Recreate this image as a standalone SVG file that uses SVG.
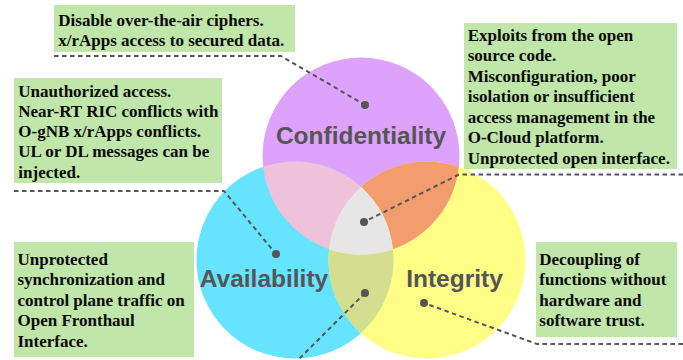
<svg xmlns="http://www.w3.org/2000/svg" width="683" height="360" viewBox="0 0 683 360">
<defs>
<style>
.box{fill:#C0E6A9}
.bt{font-family:"Liberation Serif","Times New Roman",serif;font-weight:bold;font-size:17px;fill:#0a0a0a}
.lbl{font-family:"Liberation Sans",Arial,sans-serif;font-weight:bold;font-size:24.5px;fill:#555;text-anchor:middle}
.dash{fill:none;stroke:#555;stroke-width:2;stroke-dasharray:4.5 3.5}
.dot{fill:#555}
</style>
</defs>
<rect width="683" height="360" fill="#fff"/>
<g id="venn">
<circle id="conf" cx="361" cy="156" r="98.5" fill="#DCA2FC"/>
<circle id="avail" cx="295" cy="260" r="98.5" fill="#66E3FE"/>
<circle id="integ" cx="427" cy="260" r="98.5" fill="#FEFE86"/>
<path id="ov-pc" d="M263.1,166.8 A98.5,98.5 0 0 1 361,186.9 A98.5,98.5 0 0 0 329.1,249.2 A98.5,98.5 0 0 1 263.1,166.8 Z" fill="#EFC2DC"/>
<path id="ov-py" d="M458.9,166.8 A98.5,98.5 0 0 0 361,186.9 A98.5,98.5 0 0 1 392.9,249.2 A98.5,98.5 0 0 0 458.9,166.8 Z" fill="#F39C6D"/>
<path id="ov-cy" d="M329.1,249.2 A98.5,98.5 0 0 0 392.9,249.2 A98.5,98.5 0 0 1 361,333.1 A98.5,98.5 0 0 1 329.1,249.2 Z" fill="#D3DF8E"/>
<path id="ov-all" d="M361,186.9 A98.5,98.5 0 0 1 392.9,249.2 A98.5,98.5 0 0 1 329.1,249.2 A98.5,98.5 0 0 1 361,186.9 Z" fill="#E6E6E6"/>
<text class="lbl" x="361" y="144">Confidentiality</text>
<text class="lbl" x="264" y="287">Availability</text>
<text class="lbl" x="454.5" y="287">Integrity</text>
</g>
<g id="box1">
<rect class="box" x="54" y="5" width="241" height="47"/>
<text class="bt"><tspan x="58.3" y="25.5">Disable over-the-air ciphers.</tspan><tspan x="58.3" y="46">x/rApps access to secured data.</tspan></text>
</g>
<g id="box2">
<rect class="box" x="14" y="78" width="208" height="105"/>
<text class="bt"><tspan x="18.3" y="96.5">Unauthorized access.</tspan><tspan x="18.3" y="116.8">Near-RT RIC conflicts with</tspan><tspan x="18.3" y="137.1">O-gNB x/rApps conflicts.</tspan><tspan x="18.3" y="157.4">UL or DL messages can be</tspan><tspan x="18.3" y="177.7">injected.</tspan></text>
</g>
<g id="box3">
<rect class="box" x="14" y="242" width="180" height="115"/>
<text class="bt"><tspan x="17.5" y="265">Unprotected</tspan><tspan x="17.5" y="285.4">synchronization and</tspan><tspan x="17.5" y="305.8">control plane traffic on</tspan><tspan x="17.5" y="326.2">Open Fronthaul</tspan><tspan x="17.5" y="346.6">Interface.</tspan></text>
</g>
<g id="box4">
<rect class="box" x="464" y="23" width="213" height="146"/>
<text class="bt"><tspan x="467.7" y="40.7">Exploits from the open</tspan><tspan x="467.7" y="61.2">source code.</tspan><tspan x="467.7" y="81.8">Misconfiguration, poor</tspan><tspan x="467.7" y="102.3">isolation or insufficient</tspan><tspan x="467.7" y="122.9">access management in the</tspan><tspan x="467.7" y="143.4">O-Cloud platform.</tspan><tspan x="467.7" y="164">Unprotected open interface.</tspan></text>
</g>
<g id="box5">
<rect class="box" x="536" y="242" width="141" height="95"/>
<text class="bt"><tspan x="539.3" y="264.5">Decoupling of</tspan><tspan x="539.3" y="285">functions without</tspan><tspan x="539.3" y="305.5">hardware and</tspan><tspan x="539.3" y="326">software trust.</tspan></text>
</g>
<g id="connectors">
<polyline class="dash" points="54,56 281,56 365,105"/>
<polyline class="dash" points="14,191 224,191 276,254"/>
<polyline class="dash" points="683,174.5 459,174.5 364,222"/>
<polyline class="dash" points="683,344 537,344 424,303"/>
<polyline class="dash" points="365,293 297,361"/>
<circle class="dot" cx="365" cy="105" r="4"/>
<circle class="dot" cx="276" cy="254" r="4"/>
<circle class="dot" cx="364" cy="222" r="4"/>
<circle class="dot" cx="424" cy="303" r="4"/>
<circle class="dot" cx="365" cy="293" r="4"/>
</g>
</svg>
